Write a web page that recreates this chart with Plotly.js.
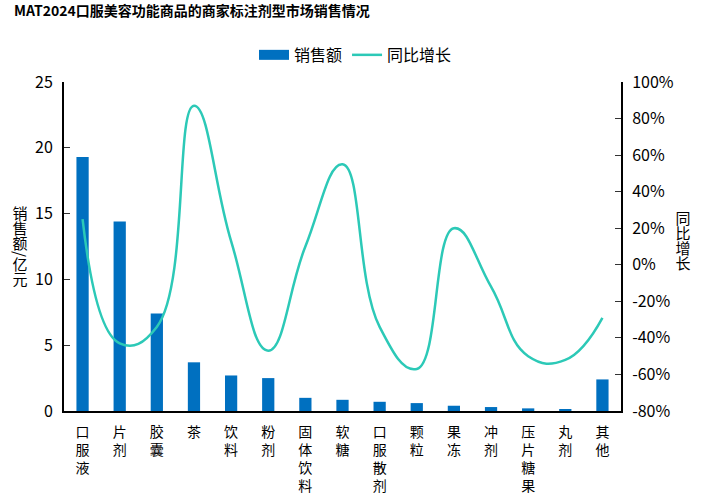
<!DOCTYPE html>
<html>
<head>
<meta charset="utf-8">
<script src="https://cdn.plot.ly/plotly-3.0.1.min.js"></script>
<style>html,body{margin:0;padding:0;background:#fff;}#chart{width:704px;height:495px;}</style>
</head>
<body>
<div id="chart"></div>
<script>
const categories = ['口服液','片剂','胶囊','茶','饮料','粉剂','固体饮料','软糖','口服散剂','颗粒','果冻','冲剂','压片糖果','丸剂','其他'];
const sales = [19.3, 14.4, 7.4, 3.7, 2.7, 2.5, 1.0, 0.85, 0.7, 0.6, 0.4, 0.3, 0.2, 0.1, 2.4];
const growth = [0.25, -0.43, -0.34, 0.87, 0.13, -0.47, 0.10, 0.55, -0.34, -0.57, 0.20, -0.12, -0.50, -0.52, -0.29];
const leftTicks = [0, 5, 10, 15, 20, 25];
const rightTicks = [-0.8, -0.6, -0.4, -0.2, 0, 0.2, 0.4, 0.6, 0.8, 1.0];
const leftTitle = '销售额/亿元';
const rightTitle = '同比增长';

const font = '"Noto Sans CJK SC", "Noto Sans", sans-serif';
const tickText = categories.map(c => c.split('').join('<br>'));
const barColor = '#0070C0';
const lineColor = '#2CC9B7';

const traces = [
  {
    type: 'bar', name: '销售额', x: categories, y: sales,
    marker: {color: barColor}, width: 0.33, yaxis: 'y', showlegend: false
  },
  {
    // legend entry for the bars (wide rectangle key as in the reference)
    type: 'scatter', mode: 'lines', name: '销售额', x: [null], y: [null],
    line: {color: barColor, width: 10}, yaxis: 'y', hoverinfo: 'skip'
  },
  {
    type: 'scatter', mode: 'lines', name: '同比增长', x: categories, y: growth,
    line: {color: lineColor, width: 2.5, shape: 'spline', smoothing: 1.3}, yaxis: 'y2'
  }
];

const layout = {
  width: 704, height: 495,
  margin: {l: 64, r: 83, t: 82, b: 84},
  paper_bgcolor: '#fff', plot_bgcolor: '#fff',
  font: {family: font, color: '#000', size: 14},
  title: {
    text: '<b>MAT2024口服美容功能商品的商家标注剂型市场销售情况</b>',
    font: {family: font, size: 14, color: '#000'},
    xref: 'container', yref: 'container', x: 0.02, xanchor: 'left', y: 0.977, yanchor: 'middle'
  },
  showlegend: true,
  legend: {
    orientation: 'h', x: 0.505, xanchor: 'center', xref: 'container',
    y: 0.889, yref: 'container', yanchor: 'middle',
    font: {family: font, size: 16, color: '#000'}, traceorder: 'normal'
  },
  xaxis: {
    type: 'category', tickvals: categories, ticktext: tickText,
    showline: true, linecolor: '#000', linewidth: 2, ticks: '', showgrid: false,
    tickfont: {family: font, size: 14}, tickangle: 0, zeroline: false, ticklabelstandoff: 7
  },
  yaxis: {
    range: [0, 25], tickvals: leftTicks, ticktext: leftTicks.map(String),
    showline: true, linecolor: '#000', linewidth: 2, ticks: 'inside', ticklen: 6, tickcolor: '#333',
    showgrid: false, zeroline: false, tickfont: {family: font, size: 16}, ticklabelstandoff: 6
  },
  yaxis2: {
    range: [-0.8, 1.0], tickvals: rightTicks, ticktext: rightTicks.map(v => Math.round(v * 100) + '%'),
    overlaying: 'y', side: 'right', anchor: 'x',
    showline: true, linecolor: '#000', linewidth: 2, ticks: 'inside', ticklen: 6, tickcolor: '#333',
    showgrid: false, zeroline: false, tickfont: {family: font, size: 16}, ticklabelstandoff: 6
  },
  annotations: [
    {text: leftTitle, xref: 'paper', yref: 'paper', x: -0.079, y: 0.498, xanchor: 'center', yanchor: 'middle',
     showarrow: false, font: {family: font, size: 15, color: '#000'}},
    {text: rightTitle, xref: 'paper', yref: 'paper', x: 1.113, y: 0.517, xanchor: 'center', yanchor: 'middle',
     showarrow: false, font: {family: font, size: 15, color: '#000'}}
  ]
};

// desired centres (px) of the vertical axis titles
const titleCentres = [[20, 247], [683, 241]];

Plotly.newPlot('chart', traces, layout, {displayModeBar: false, responsive: false}).then(gd => {
  const texts = gd.querySelectorAll('.annotation-text');
  const root = gd.getBoundingClientRect();
  texts.forEach((t, i) => {
    if (!titleCentres[i]) return;
    t.style.writingMode = 'vertical-rl';
    t.setAttribute('text-anchor', 'middle');
    const r = t.getBoundingClientRect();
    const cx = r.left - root.left + r.width / 2;
    const cy = r.top - root.top + r.height / 2;
    const x = parseFloat(t.getAttribute('x') || 0);
    const y = parseFloat(t.getAttribute('y') || 0);
    t.setAttribute('x', x + titleCentres[i][0] - cx);
    t.setAttribute('y', y + titleCentres[i][1] - cy);
  });
});
</script>
</body>
</html>
